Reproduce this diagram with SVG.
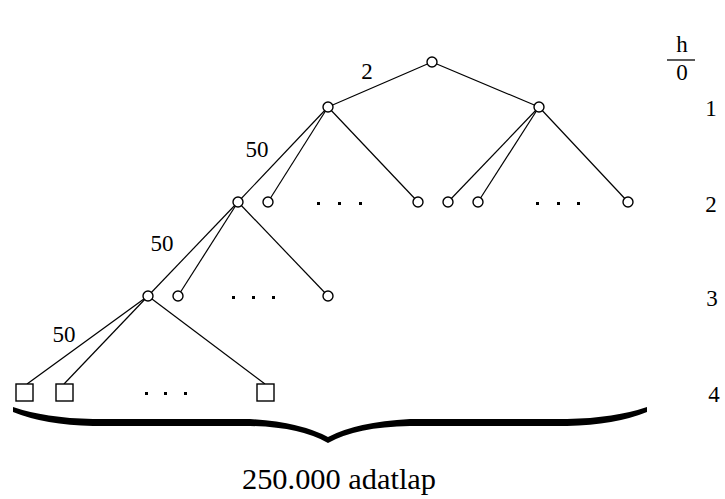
<svg xmlns="http://www.w3.org/2000/svg" width="725" height="499" viewBox="0 0 725 499">
<style>
.e{stroke:#000;stroke-width:1.2;fill:none}
.n{stroke:#000;stroke-width:1.4;fill:#fff}
.t{font-family:"Liberation Serif","Times New Roman",serif;fill:#000}
.d{fill:#000}
</style>
<rect width="725" height="499" fill="#fff"/>
<g id="connectors">
<line class="e" x1="432" y1="62" x2="328" y2="107"/>
<line class="e" x1="432" y1="62" x2="539" y2="107"/>
<line class="e" x1="328" y1="107" x2="238" y2="202"/>
<line class="e" x1="328" y1="107" x2="268" y2="202"/>
<line class="e" x1="328" y1="107" x2="418" y2="202"/>
<line class="e" x1="539" y1="107" x2="448" y2="202"/>
<line class="e" x1="539" y1="107" x2="478" y2="202"/>
<line class="e" x1="539" y1="107" x2="628" y2="202"/>
<line class="e" x1="238" y1="202" x2="148" y2="296"/>
<line class="e" x1="238" y1="202" x2="178" y2="296"/>
<line class="e" x1="238" y1="202" x2="328" y2="296"/>
<line class="e" x1="148" y1="296" x2="27" y2="384"/>
<line class="e" x1="148" y1="296" x2="64" y2="384"/>
<line class="e" x1="148" y1="296" x2="265" y2="384"/>
</g>
<g id="n0"><circle class="n" cx="432" cy="62" r="5"/></g>
<g id="n1a"><circle class="n" cx="328" cy="107" r="5"/></g>
<g id="n1b"><circle class="n" cx="539" cy="107" r="5"/></g>
<g id="n2a"><circle class="n" cx="238" cy="202" r="5"/></g>
<g id="n2b"><circle class="n" cx="268" cy="202" r="5"/></g>
<g id="n2c"><circle class="n" cx="418" cy="202" r="5"/></g>
<g id="n2d"><circle class="n" cx="448" cy="202" r="5"/></g>
<g id="n2e"><circle class="n" cx="478" cy="202" r="5"/></g>
<g id="n2f"><circle class="n" cx="628" cy="202" r="5"/></g>
<g id="n3a"><circle class="n" cx="148" cy="296" r="5"/></g>
<g id="n3b"><circle class="n" cx="178" cy="296" r="5"/></g>
<g id="n3c"><circle class="n" cx="328" cy="296" r="5"/></g>
<g id="leaf1"><rect class="n" x="16" y="384" width="17" height="17"/></g>
<g id="leaf2"><rect class="n" x="56" y="384" width="17" height="17"/></g>
<g id="leaf3"><rect class="n" x="257" y="384" width="17" height="17"/></g>
<g id="dots">
<rect class="d" x="317" y="202" width="3" height="3"/><rect class="d" x="338" y="202" width="3" height="3"/><rect class="d" x="359" y="202" width="3" height="3"/>
<rect class="d" x="536" y="202" width="3" height="3"/><rect class="d" x="557" y="202" width="3" height="3"/><rect class="d" x="577" y="202" width="3" height="3"/>
<rect class="d" x="232" y="296" width="3" height="3"/><rect class="d" x="252" y="296" width="3" height="3"/><rect class="d" x="272" y="296" width="3" height="3"/>
<rect class="d" x="145" y="392" width="3" height="3"/><rect class="d" x="164" y="392" width="3" height="3"/><rect class="d" x="184" y="392" width="3" height="3"/>
</g>
<g id="edge-labels" class="t" font-size="23">
<text x="367" y="79" text-anchor="middle">2</text>
<text x="257" y="157" text-anchor="middle">50</text>
<text x="162" y="251" text-anchor="middle">50</text>
<text x="64" y="342" text-anchor="middle">50</text>
</g>
<g id="levels" class="t" font-size="23" text-anchor="middle">
<text x="682" y="52">h</text>
<line x1="667" y1="60" x2="695" y2="60" stroke="#000" stroke-width="1.3"/>
<text x="682" y="80">0</text>
<text x="711" y="116">1</text>
<text x="711" y="212">2</text>
<text x="712" y="306">3</text>
<text x="714" y="402">4</text>
</g>
<g id="brace">
<path class="d" d="M13,407 Q45,418 93,419 L250,419 Q300,422 328,437 Q356,422 410,419 L567,419 Q615,418 647,407 L647,412 Q615,425 567,426 L410,426 Q356,427 328,443 Q300,427 250,426 L93,426 Q45,425 13,412 Z"/>
</g>
<text class="t" x="242" y="489" font-size="30" textLength="194" lengthAdjust="spacingAndGlyphs">250.000 adatlap</text>
</svg>
